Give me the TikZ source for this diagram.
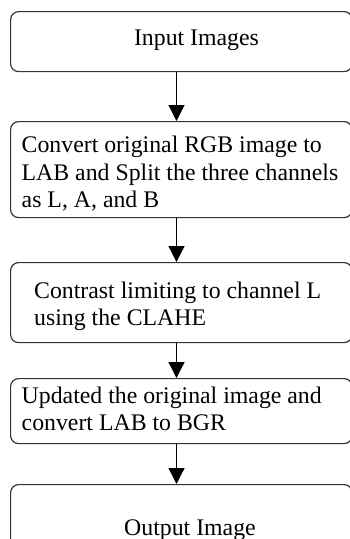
\documentclass[tikz,border=0pt]{standalone}
\usepackage{fontspec}
\setmainfont{Liberation Serif}
\usetikzlibrary{arrows.meta}
\begin{document}
\begin{tikzpicture}[x=1pt,y=-1pt,
  box/.style={draw=black!80,line width=1.2pt,rounded corners=8pt,inner sep=0pt},
  txt/.style={inner sep=0pt,font=\fontsize{23.8}{28}\selectfont},
  arr/.style={line width=1.3pt,-{Triangle[length=16pt,width=16pt]}}]
\useasboundingbox (0,0) rectangle (350,539);
\clip (0,0) rectangle (350,539);
\coordinate (ax) at (176.5,0);
\node[box,minimum width=341.5pt,minimum height=60pt,anchor=north west] (b1) at (10,11) {};
\node[box,minimum width=341.5pt,minimum height=96pt,anchor=north west] (b2) at (10,121) {};
\node[box,minimum width=341.5pt,minimum height=80pt,anchor=north west] (b3) at (10,262) {};
\node[box,minimum width=341.5pt,minimum height=65pt,anchor=north west] (b4) at (10,378) {};
\node[box,minimum width=341.5pt,minimum height=80pt,anchor=north west] (b5) at (10,484) {};
\node[txt,anchor=base] (t1) at (196.5,45) {Input Images};
\node[txt,anchor=base west] (t2a) at (21.5,152) {Convert original RGB image to};
\node[txt,anchor=base west] (t2b) at (21.5,180) {LAB and Split the three channels};
\node[txt,anchor=base west] (t2c) at (21.5,207) {as L, A, and B};
\node[txt,anchor=base west] (t3a) at (34,298) {Contrast limiting to channel L};
\node[txt,anchor=base west] (t3b) at (34,325) {using the CLAHE};
\node[txt,anchor=base west] (t4a) at (21.5,403) {Updated the original image and};
\node[txt,anchor=base west] (t4b) at (21.5,430) {convert LAB to BGR};
\node[txt,anchor=base] (t5) at (190,535) {Output Image};
\draw[arr] (b1.south -| ax) -- (b2.north -| ax);
\draw[arr] (b2.south -| ax) -- (b3.north -| ax);
\draw[arr] (b3.south -| ax) -- (b4.north -| ax);
\draw[arr] (b4.south -| ax) -- (b5.north -| ax);
\end{tikzpicture}
\end{document}
